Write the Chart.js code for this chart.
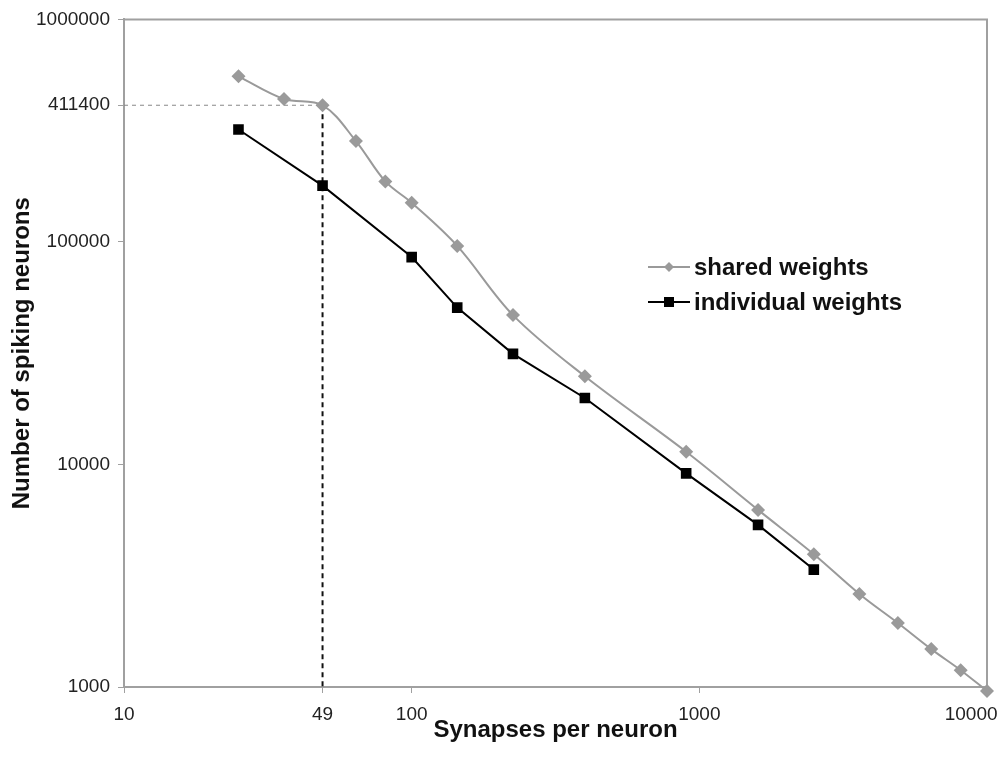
<!DOCTYPE html>
<html>
<head>
<meta charset="utf-8">
<title>Spiking neurons vs synapses</title>
<script src="https://cdn.jsdelivr.net/npm/chart.js@4.4.1/dist/chart.umd.min.js"></script>
<style>
  html, body { margin: 0; padding: 0; background: #fff; }
  canvas { display: block; }
</style>
</head>
<body>
<canvas id="chart" width="1005" height="761"></canvas>
<script>
// synapses per neuron (square grids)
const sharedX = [25, 36, 49, 64, 81, 100, 144, 225, 400, 900, 1600, 2500, 3600, 4900, 6400, 8100, 10000];
const sharedY = [555000, 439000, 411400, 284000, 187000, 150000, 96000, 46900, 24900, 11400, 6250, 3950, 2620, 1940, 1480, 1190, 960];

const indivX = [25, 49, 100, 144, 225, 400, 900, 1600, 2500];
const indivY = [320000, 179000, 85500, 50700, 31400, 19900, 9120, 5350, 3370];

const xTicks = [10, 49, 100, 1000, 10000];
const yTicks = [1000, 10000, 100000, 411400, 1000000];

// the marked point (49 synapses, 411400 neurons)
const markX = 49;
const markY = 411400;

const toPoints = (xs, ys) => xs.map((x, i) => ({ x: x, y: ys[i] }));

const GRAY = '#9a9a9a';
const AXIS = '#a0a0a0';
const FONT = '"Liberation Sans", Arial, sans-serif';

const legendItems = [
    { label: 'shared weights', color: GRAY, shape: 'diamond', y: 267 },
    { label: 'individual weights', color: '#000', shape: 'square', y: 302 }
];

const frameAndLegend = {
    id: 'frameAndLegend',
    beforeDatasetsDraw(chart) {
        const { ctx, chartArea: a } = chart;
        ctx.save();
        ctx.strokeStyle = AXIS;
        ctx.lineWidth = 2;
        ctx.beginPath();
        ctx.moveTo(a.left, a.top);
        ctx.lineTo(a.right, a.top);
        ctx.lineTo(a.right, a.bottom);
        ctx.stroke();
        ctx.restore();
    },
    afterDraw(chart) {
        const ctx = chart.ctx;
        ctx.save();
        legendItems.forEach(item => {
            ctx.strokeStyle = item.color;
            ctx.fillStyle = item.color;
            ctx.lineWidth = 2;
            ctx.beginPath();
            ctx.moveTo(648, item.y);
            ctx.lineTo(690, item.y);
            ctx.stroke();
            ctx.beginPath();
            if (item.shape === 'diamond') {
                ctx.moveTo(669, item.y - 5);
                ctx.lineTo(674, item.y);
                ctx.lineTo(669, item.y + 5);
                ctx.lineTo(664, item.y);
                ctx.closePath();
            } else {
                ctx.rect(664, item.y - 5, 10, 10);
            }
            ctx.fill();
            ctx.fillStyle = '#111';
            ctx.font = 'bold 24px ' + FONT;
            ctx.textAlign = 'left';
            ctx.textBaseline = 'middle';
            ctx.fillText(item.label, 694, item.y + 1);
        });
        ctx.restore();
    }
};

new Chart(document.getElementById('chart'), {
    type: 'line',
    data: {
        datasets: [
            {
                label: 'shared weights',
                data: toPoints(sharedX, sharedY),
                borderColor: GRAY,
                backgroundColor: GRAY,
                borderWidth: 2,
                pointStyle: 'rectRot',
                pointRadius: 7,
                pointBorderWidth: 0,
                tension: 0.35,
                clip: 12,
                order: 2
            },
            {
                label: 'individual weights',
                data: toPoints(indivX, indivY),
                borderColor: '#000',
                backgroundColor: '#000',
                borderWidth: 2,
                pointStyle: 'rect',
                pointRadius: 7.5,
                pointBorderWidth: 0,
                tension: 0,
                order: 1
            },
            {
                label: 'mark-h',
                data: [{ x: 10, y: markY }, { x: markX, y: markY }],
                borderColor: '#888',
                borderWidth: 1,
                borderDash: [4, 4],
                pointRadius: 0,
                order: 3
            },
            {
                label: 'mark-v',
                data: [{ x: markX, y: markY }, { x: markX, y: 1000 }],
                borderColor: '#111',
                borderWidth: 2,
                borderDash: [5, 4],
                pointRadius: 0,
                order: 3
            }
        ]
    },
    options: {
        responsive: false,
        animation: false,
        layout: { padding: { top: 16, right: 18, bottom: 0, left: 0 } },
        plugins: {
            legend: { display: false },
            tooltip: { enabled: false }
        },
        scales: {
            x: {
                type: 'logarithmic',
                min: 10,
                max: 10000,
                afterBuildTicks: scale => { scale.ticks = xTicks.map(v => ({ value: v })); },
                afterFit: scale => {
                    scale.height = 74;
                    scale.paddingRight = 0;
                },
                ticks: {
                    autoSkip: false,
                    maxRotation: 0,
                    padding: 10,
                    color: '#222',
                    font: { family: FONT, size: 19 },
                    // last label sits inside the canvas edge, like the original
                    callback: value => value === 10000 ? '10000\u2007\u2007\u2007' : String(value)
                },
                grid: { drawOnChartArea: false, tickLength: 6, color: AXIS, lineWidth: 1 },
                border: { color: AXIS, width: 2 },
                title: {
                    display: true,
                    text: 'Synapses per neuron',
                    color: '#111',
                    font: { family: FONT, size: 24, weight: 'bold' },
                    padding: { top: 0, bottom: 16 }
                }
            },
            y: {
                type: 'logarithmic',
                min: 1000,
                max: 1000000,
                afterBuildTicks: scale => { scale.ticks = yTicks.map(v => ({ value: v })); },
                afterFit: scale => { scale.width = 124; },
                ticks: {
                    autoSkip: false,
                    padding: 8,
                    color: '#222',
                    font: { family: FONT, size: 19 },
                    callback: value => String(value)
                },
                grid: { drawOnChartArea: false, tickLength: 6, color: AXIS, lineWidth: 1 },
                border: { color: AXIS, width: 2 },
                title: {
                    display: true,
                    text: 'Number of spiking neurons',
                    color: '#111',
                    font: { family: FONT, size: 24, weight: 'bold' },
                    padding: { top: 8, bottom: 0 }
                }
            }
        }
    },
    plugins: [frameAndLegend]
});
</script>
</body>
</html>
